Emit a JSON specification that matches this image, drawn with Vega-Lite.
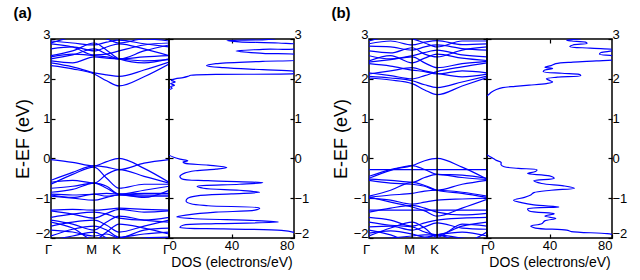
{
"$schema":"https://vega.github.io/schema/vega-lite/v6.json",
"padding":{"left":13,"top":6,"right":0,"bottom":0},
"config":{
 "font":"Liberation Sans",
 "view":{"stroke":"black","strokeWidth":1.5},
 "axis":{"domain":false,"grid":false,"labelFont":"Liberation Sans","labelFontSize":13,"labelColor":"black","tickColor":"black","tickSize":-4,"tickWidth":1.2,"titleFont":"Liberation Sans","titleFontWeight":"normal","titleColor":"black","minExtent":0,"labelOverlap":false},
 "title":{"anchor":"start","fontSize":15,"fontWeight":"bold","font":"Liberation Sans","color":"black","offset":6,"frame":"bounds"}
},
"datasets":{
"sym":[{"p":"M","k":1},{"p":"K","k":1.577}],
"bandA":[
{"b":1,"k":0,"e":2.33},{"b":1,"k":0.5,"e":2.25},{"b":1,"k":1,"e":2.12},{"b":1,"k":1.289,"e":1.95},{"b":1,"k":1.577,"e":1.82},{"b":1,"k":2.155,"e":2.05},{"b":1,"k":2.732,"e":2.37},
{"b":2,"k":0,"e":2.40},{"b":2,"k":0.5,"e":2.30},{"b":2,"k":1,"e":2.15},{"b":2,"k":1.289,"e":2.10},{"b":2,"k":1.577,"e":2.06},{"b":2,"k":2.155,"e":2.22},{"b":2,"k":2.732,"e":2.42},
{"b":3,"k":0,"e":2.45},{"b":3,"k":0.5,"e":2.40},{"b":3,"k":1,"e":2.55},{"b":3,"k":1.289,"e":2.52},{"b":3,"k":1.577,"e":2.50},{"b":3,"k":2.155,"e":2.45},{"b":3,"k":2.732,"e":2.48},
{"b":4,"k":0,"e":2.50},{"b":4,"k":0.5,"e":2.60},{"b":4,"k":1,"e":2.75},{"b":4,"k":1.289,"e":2.62},{"b":4,"k":1.577,"e":2.50},{"b":4,"k":2.155,"e":2.55},{"b":4,"k":2.732,"e":2.58},
{"b":5,"k":0,"e":2.55},{"b":5,"k":0.5,"e":2.62},{"b":5,"k":1,"e":2.58},{"b":5,"k":1.289,"e":2.55},{"b":5,"k":1.577,"e":2.50},{"b":5,"k":2.155,"e":2.70},{"b":5,"k":2.732,"e":2.85},
{"b":6,"k":0,"e":2.58},{"b":6,"k":0.5,"e":2.70},{"b":6,"k":1,"e":2.90},{"b":6,"k":1.289,"e":2.72},{"b":6,"k":1.577,"e":2.50},{"b":6,"k":2.155,"e":2.40},{"b":6,"k":2.732,"e":2.50},
{"b":7,"k":0,"e":2.75},{"b":7,"k":0.5,"e":2.80},{"b":7,"k":1,"e":2.70},{"b":7,"k":1.289,"e":2.80},{"b":7,"k":1.577,"e":2.88},{"b":7,"k":2.155,"e":2.75},{"b":7,"k":2.732,"e":2.58},
{"b":8,"k":0,"e":2.88},{"b":8,"k":0.5,"e":2.80},{"b":8,"k":1,"e":2.60},{"b":8,"k":1.289,"e":2.62},{"b":8,"k":1.577,"e":2.70},{"b":8,"k":2.155,"e":2.85},{"b":8,"k":2.732,"e":2.90},
{"b":9,"k":0,"e":2.95},{"b":9,"k":0.5,"e":2.90},{"b":9,"k":1,"e":2.85},{"b":9,"k":1.289,"e":2.92},{"b":9,"k":1.577,"e":2.97},{"b":9,"k":2.155,"e":2.88},{"b":9,"k":2.732,"e":2.80},
{"b":10,"k":0,"e":2.90},{"b":10,"k":0.5,"e":3.05},{"b":10,"k":1,"e":3.10},{"b":10,"k":1.289,"e":3.00},{"b":10,"k":1.577,"e":2.90},{"b":10,"k":2.155,"e":3.00},{"b":10,"k":2.732,"e":2.95},
{"b":11,"k":0,"e":-0.03},{"b":11,"k":0.5,"e":-0.10},{"b":11,"k":1,"e":-0.19},{"b":11,"k":1.289,"e":-0.08},{"b":11,"k":1.577,"e":0.00},{"b":11,"k":2.155,"e":-0.25},{"b":11,"k":2.732,"e":-0.60},
{"b":12,"k":0,"e":-0.55},{"b":12,"k":0.5,"e":-0.35},{"b":12,"k":1,"e":-0.19},{"b":12,"k":1.289,"e":-0.22},{"b":12,"k":1.577,"e":-0.28},{"b":12,"k":2.155,"e":-0.12},{"b":12,"k":2.732,"e":-0.03},
{"b":13,"k":0,"e":-0.60},{"b":13,"k":0.5,"e":-0.55},{"b":13,"k":1,"e":-0.62},{"b":13,"k":1.289,"e":-0.40},{"b":13,"k":1.577,"e":-0.28},{"b":13,"k":2.155,"e":-0.45},{"b":13,"k":2.732,"e":-0.62},
{"b":14,"k":0,"e":-0.65},{"b":14,"k":0.5,"e":-0.40},{"b":14,"k":1,"e":-0.22},{"b":14,"k":1.289,"e":-0.50},{"b":14,"k":1.577,"e":-0.75},{"b":14,"k":2.155,"e":-0.65},{"b":14,"k":2.732,"e":-0.65},
{"b":15,"k":0,"e":-0.75},{"b":15,"k":0.5,"e":-0.70},{"b":15,"k":1,"e":-0.62},{"b":15,"k":1.289,"e":-0.75},{"b":15,"k":1.577,"e":-0.90},{"b":15,"k":2.155,"e":-0.80},{"b":15,"k":2.732,"e":-0.70},
{"b":16,"k":0,"e":-0.85},{"b":16,"k":0.5,"e":-0.78},{"b":16,"k":1,"e":-0.62},{"b":16,"k":1.289,"e":-0.70},{"b":16,"k":1.577,"e":-0.90},{"b":16,"k":2.155,"e":-0.88},{"b":16,"k":2.732,"e":-0.88},
{"b":17,"k":0,"e":-0.90},{"b":17,"k":0.5,"e":-0.92},{"b":17,"k":1,"e":-0.90},{"b":17,"k":1.289,"e":-0.88},{"b":17,"k":1.577,"e":-0.90},{"b":17,"k":2.155,"e":-0.92},{"b":17,"k":2.732,"e":-0.92},
{"b":18,"k":0,"e":-0.92},{"b":18,"k":0.5,"e":-0.98},{"b":18,"k":1,"e":-0.90},{"b":18,"k":1.289,"e":-0.95},{"b":18,"k":1.577,"e":-0.92},{"b":18,"k":2.155,"e":-0.95},{"b":18,"k":2.732,"e":-0.95},
{"b":19,"k":0,"e":-0.95},{"b":19,"k":0.5,"e":-1.00},{"b":19,"k":1,"e":-1.05},{"b":19,"k":1.289,"e":-0.98},{"b":19,"k":1.577,"e":-0.92},{"b":19,"k":2.155,"e":-0.98},{"b":19,"k":2.732,"e":-0.80},
{"b":20,"k":0,"e":-1.30},{"b":20,"k":0.5,"e":-1.28},{"b":20,"k":1,"e":-1.30},{"b":20,"k":1.289,"e":-1.28},{"b":20,"k":1.577,"e":-1.25},{"b":20,"k":2.155,"e":-1.28},{"b":20,"k":2.732,"e":-1.30},
{"b":21,"k":0,"e":-1.32},{"b":21,"k":0.5,"e":-1.40},{"b":21,"k":1,"e":-1.50},{"b":21,"k":1.289,"e":-1.38},{"b":21,"k":1.577,"e":-1.28},{"b":21,"k":2.155,"e":-1.35},{"b":21,"k":2.732,"e":-1.32},
{"b":22,"k":0,"e":-1.48},{"b":22,"k":0.5,"e":-1.40},{"b":22,"k":1,"e":-1.35},{"b":22,"k":1.289,"e":-1.40},{"b":22,"k":1.577,"e":-1.50},{"b":22,"k":2.155,"e":-1.55},{"b":22,"k":2.732,"e":-1.48},
{"b":23,"k":0,"e":-1.55},{"b":23,"k":0.5,"e":-1.65},{"b":23,"k":1,"e":-1.80},{"b":23,"k":1.289,"e":-1.60},{"b":23,"k":1.577,"e":-1.45},{"b":23,"k":2.155,"e":-1.55},{"b":23,"k":2.732,"e":-1.60},
{"b":24,"k":0,"e":-1.70},{"b":24,"k":0.5,"e":-1.60},{"b":24,"k":1,"e":-1.55},{"b":24,"k":1.289,"e":-1.68},{"b":24,"k":1.577,"e":-1.85},{"b":24,"k":2.155,"e":-1.70},{"b":24,"k":2.732,"e":-1.55},
{"b":25,"k":0,"e":-1.80},{"b":25,"k":0.5,"e":-1.85},{"b":25,"k":1,"e":-1.95},{"b":25,"k":1.289,"e":-1.90},{"b":25,"k":1.577,"e":-2.00},{"b":25,"k":2.155,"e":-1.80},{"b":25,"k":2.732,"e":-1.75},
{"b":26,"k":0,"e":-1.95},{"b":26,"k":0.5,"e":-1.78},{"b":26,"k":1,"e":-1.70},{"b":26,"k":1.289,"e":-1.80},{"b":26,"k":1.577,"e":-1.98},{"b":26,"k":2.155,"e":-1.90},{"b":26,"k":2.732,"e":-1.85},
{"b":27,"k":0,"e":-2.05},{"b":27,"k":0.5,"e":-1.95},{"b":27,"k":1,"e":-1.85},{"b":27,"k":1.289,"e":-2.00},{"b":27,"k":1.577,"e":-2.10},{"b":27,"k":2.155,"e":-2.00},{"b":27,"k":2.732,"e":-1.98},
{"b":28,"k":0,"e":-1.60},{"b":28,"k":0.5,"e":-1.75},{"b":28,"k":1,"e":-2.05},{"b":28,"k":1.289,"e":-1.85},{"b":28,"k":1.577,"e":-1.65},{"b":28,"k":2.155,"e":-1.75},{"b":28,"k":2.732,"e":-1.90}
],
"bandB":[
{"b":1,"k":0,"e":2.02},{"b":1,"k":0.5,"e":1.97},{"b":1,"k":1,"e":1.88},{"b":1,"k":1.289,"e":1.72},{"b":1,"k":1.577,"e":1.60},{"b":1,"k":2.155,"e":1.82},{"b":1,"k":2.732,"e":2.03},
{"b":2,"k":0,"e":2.06},{"b":2,"k":0.5,"e":2.02},{"b":2,"k":1,"e":1.95},{"b":2,"k":1.289,"e":1.85},{"b":2,"k":1.577,"e":1.78},{"b":2,"k":2.155,"e":1.92},{"b":2,"k":2.732,"e":2.07},
{"b":3,"k":0,"e":2.12},{"b":3,"k":0.5,"e":2.20},{"b":3,"k":1,"e":2.28},{"b":3,"k":1.289,"e":2.20},{"b":3,"k":1.577,"e":2.14},{"b":3,"k":2.155,"e":2.05},{"b":3,"k":2.732,"e":2.12},
{"b":4,"k":0,"e":2.15},{"b":4,"k":0.5,"e":2.08},{"b":4,"k":1,"e":2.00},{"b":4,"k":1.289,"e":2.08},{"b":4,"k":1.577,"e":2.18},{"b":4,"k":2.155,"e":2.30},{"b":4,"k":2.732,"e":2.40},
{"b":5,"k":0,"e":2.38},{"b":5,"k":0.5,"e":2.32},{"b":5,"k":1,"e":2.22},{"b":5,"k":1.289,"e":2.18},{"b":5,"k":1.577,"e":2.12},{"b":5,"k":2.155,"e":2.20},{"b":5,"k":2.732,"e":2.15},
{"b":6,"k":0,"e":2.42},{"b":6,"k":0.5,"e":2.48},{"b":6,"k":1,"e":2.55},{"b":6,"k":1.289,"e":2.40},{"b":6,"k":1.577,"e":2.28},{"b":6,"k":2.155,"e":2.38},{"b":6,"k":2.732,"e":2.44},
{"b":7,"k":0,"e":2.45},{"b":7,"k":0.5,"e":2.58},{"b":7,"k":1,"e":2.40},{"b":7,"k":1.289,"e":2.52},{"b":7,"k":1.577,"e":2.62},{"b":7,"k":2.155,"e":2.52},{"b":7,"k":2.732,"e":2.46},
{"b":8,"k":0,"e":2.58},{"b":8,"k":0.5,"e":2.50},{"b":8,"k":1,"e":2.58},{"b":8,"k":1.289,"e":2.66},{"b":8,"k":1.577,"e":2.72},{"b":8,"k":2.155,"e":2.60},{"b":8,"k":2.732,"e":2.55},
{"b":9,"k":0,"e":2.70},{"b":9,"k":0.5,"e":2.65},{"b":9,"k":1,"e":2.78},{"b":9,"k":1.289,"e":2.62},{"b":9,"k":1.577,"e":2.55},{"b":9,"k":2.155,"e":2.72},{"b":9,"k":2.732,"e":2.80},
{"b":10,"k":0,"e":2.82},{"b":10,"k":0.5,"e":2.80},{"b":10,"k":1,"e":2.72},{"b":10,"k":1.289,"e":2.80},{"b":10,"k":1.577,"e":2.85},{"b":10,"k":2.155,"e":2.76},{"b":10,"k":2.732,"e":2.72},
{"b":11,"k":0,"e":2.88},{"b":11,"k":0.5,"e":2.95},{"b":11,"k":1,"e":2.85},{"b":11,"k":1.289,"e":2.92},{"b":11,"k":1.577,"e":2.96},{"b":11,"k":2.155,"e":2.86},{"b":11,"k":2.732,"e":2.88},
{"b":12,"k":0,"e":2.95},{"b":12,"k":0.5,"e":3.05},{"b":12,"k":1,"e":3.00},{"b":12,"k":1.289,"e":2.90},{"b":12,"k":1.577,"e":2.80},{"b":12,"k":2.155,"e":2.95},{"b":12,"k":2.732,"e":2.95},
{"b":13,"k":0,"e":-0.45},{"b":13,"k":0.5,"e":-0.28},{"b":13,"k":1,"e":-0.18},{"b":13,"k":1.289,"e":-0.06},{"b":13,"k":1.577,"e":0.00},{"b":13,"k":2.155,"e":-0.22},{"b":13,"k":2.732,"e":-0.52},
{"b":14,"k":0,"e":-0.28},{"b":14,"k":0.5,"e":-0.28},{"b":14,"k":1,"e":-0.28},{"b":14,"k":1.289,"e":-0.28},{"b":14,"k":1.577,"e":-0.28},{"b":14,"k":2.155,"e":-0.28},{"b":14,"k":2.732,"e":-0.28},
{"b":15,"k":0,"e":-0.50},{"b":15,"k":0.5,"e":-0.30},{"b":15,"k":1,"e":-0.18},{"b":15,"k":1.289,"e":-0.28},{"b":15,"k":1.577,"e":-0.40},{"b":15,"k":2.155,"e":-0.42},{"b":15,"k":2.732,"e":-0.50},
{"b":16,"k":0,"e":-0.52},{"b":16,"k":0.5,"e":-0.55},{"b":16,"k":1,"e":-0.60},{"b":16,"k":1.289,"e":-0.48},{"b":16,"k":1.577,"e":-0.40},{"b":16,"k":2.155,"e":-0.48},{"b":16,"k":2.732,"e":-0.53},
{"b":17,"k":0,"e":-0.55},{"b":17,"k":0.5,"e":-0.62},{"b":17,"k":1,"e":-0.65},{"b":17,"k":1.289,"e":-0.70},{"b":17,"k":1.577,"e":-0.80},{"b":17,"k":2.155,"e":-0.65},{"b":17,"k":2.732,"e":-0.55},
{"b":18,"k":0,"e":-0.95},{"b":18,"k":0.5,"e":-0.80},{"b":18,"k":1,"e":-0.60},{"b":18,"k":1.289,"e":-0.68},{"b":18,"k":1.577,"e":-0.80},{"b":18,"k":2.155,"e":-0.88},{"b":18,"k":2.732,"e":-0.98},
{"b":19,"k":0,"e":-0.98},{"b":19,"k":0.5,"e":-0.92},{"b":19,"k":1,"e":-0.88},{"b":19,"k":1.289,"e":-0.82},{"b":19,"k":1.577,"e":-0.80},{"b":19,"k":2.155,"e":-0.85},{"b":19,"k":2.732,"e":-0.95},
{"b":20,"k":0,"e":-1.00},{"b":20,"k":0.5,"e":-1.05},{"b":20,"k":1,"e":-1.15},{"b":20,"k":1.289,"e":-1.10},{"b":20,"k":1.577,"e":-1.05},{"b":20,"k":2.155,"e":-1.02},{"b":20,"k":2.732,"e":-1.00},
{"b":21,"k":0,"e":-0.97},{"b":21,"k":0.5,"e":-1.10},{"b":21,"k":1,"e":-1.22},{"b":21,"k":1.289,"e":-1.32},{"b":21,"k":1.577,"e":-1.45},{"b":21,"k":2.155,"e":-1.25},{"b":21,"k":2.732,"e":-1.03},
{"b":22,"k":0,"e":-1.30},{"b":22,"k":0.5,"e":-1.30},{"b":22,"k":1,"e":-1.30},{"b":22,"k":1.289,"e":-1.30},{"b":22,"k":1.577,"e":-1.30},{"b":22,"k":2.155,"e":-1.30},{"b":22,"k":2.732,"e":-1.30},
{"b":23,"k":0,"e":-1.35},{"b":23,"k":0.5,"e":-1.25},{"b":23,"k":1,"e":-1.18},{"b":23,"k":1.289,"e":-1.25},{"b":23,"k":1.577,"e":-1.35},{"b":23,"k":2.155,"e":-1.42},{"b":23,"k":2.732,"e":-1.38},
{"b":24,"k":0,"e":-1.48},{"b":24,"k":0.5,"e":-1.55},{"b":24,"k":1,"e":-1.70},{"b":24,"k":1.289,"e":-1.62},{"b":24,"k":1.577,"e":-1.55},{"b":24,"k":2.155,"e":-1.50},{"b":24,"k":2.732,"e":-1.48},
{"b":25,"k":0,"e":-1.60},{"b":25,"k":0.5,"e":-1.68},{"b":25,"k":1,"e":-1.72},{"b":25,"k":1.289,"e":-1.85},{"b":25,"k":1.577,"e":-1.92},{"b":25,"k":2.155,"e":-1.70},{"b":25,"k":2.732,"e":-1.60},
{"b":26,"k":0,"e":-1.72},{"b":26,"k":0.5,"e":-1.70},{"b":26,"k":1,"e":-1.80},{"b":26,"k":1.289,"e":-1.72},{"b":26,"k":1.577,"e":-1.62},{"b":26,"k":2.155,"e":-1.75},{"b":26,"k":2.732,"e":-1.78},
{"b":27,"k":0,"e":-1.88},{"b":27,"k":0.5,"e":-1.82},{"b":27,"k":1,"e":-1.90},{"b":27,"k":1.289,"e":-1.98},{"b":27,"k":1.577,"e":-1.92},{"b":27,"k":2.155,"e":-1.85},{"b":27,"k":2.732,"e":-1.95},
{"b":28,"k":0,"e":-2.05},{"b":28,"k":0.5,"e":-2.00},{"b":28,"k":1,"e":-1.95},{"b":28,"k":1.289,"e":-1.92},{"b":28,"k":1.577,"e":-1.92},{"b":28,"k":2.155,"e":-2.00},{"b":28,"k":2.732,"e":-2.05},
{"b":29,"k":0,"e":-1.80},{"b":29,"k":0.5,"e":-1.92},{"b":29,"k":1,"e":-2.10},{"b":29,"k":1.289,"e":-2.02},{"b":29,"k":1.577,"e":-1.92},{"b":29,"k":2.155,"e":-2.10},{"b":29,"k":2.732,"e":-1.85},
{"b":30,"k":0,"e":-1.95},{"b":30,"k":0.5,"e":-1.75},{"b":30,"k":1,"e":-1.60},{"b":30,"k":1.289,"e":-1.75},{"b":30,"k":1.577,"e":-1.98},{"b":30,"k":2.155,"e":-1.65},{"b":30,"k":2.732,"e":-1.70}
],
"dosA":[
{"s":1,"e":1.73,"d":0},{"s":1,"e":1.76,"d":2},{"s":1,"e":1.80,"d":1},{"s":1,"e":1.84,"d":3.5},{"s":1,"e":1.88,"d":1},{"s":1,"e":1.92,"d":4},{"s":1,"e":1.96,"d":1.5},{"s":1,"e":2.00,"d":4},{"s":1,"e":2.03,"d":9},{"s":1,"e":2.06,"d":12},{"s":1,"e":2.09,"d":14},{"s":1,"e":2.11,"d":30},{"s":1,"e":2.13,"d":80},{"s":1,"e":2.16,"d":85},{"s":1,"e":2.19,"d":80},{"s":1,"e":2.23,"d":60},{"s":1,"e":2.28,"d":35},{"s":1,"e":2.33,"d":24},{"s":1,"e":2.38,"d":30},{"s":1,"e":2.44,"d":60},{"s":1,"e":2.50,"d":85},{"s":1,"e":2.58,"d":85},{"s":1,"e":2.64,"d":60},{"s":1,"e":2.70,"d":43},{"s":1,"e":2.74,"d":60},{"s":1,"e":2.78,"d":85},{"s":1,"e":2.84,"d":85},{"s":1,"e":2.90,"d":70},{"s":1,"e":2.93,"d":45},{"s":1,"e":2.96,"d":37},{"s":1,"e":2.98,"d":60},{"s":1,"e":3.0,"d":68},
{"s":2,"e":0.08,"d":0},{"s":2,"e":0.03,"d":3},{"s":2,"e":-0.02,"d":7},{"s":2,"e":-0.06,"d":12},{"s":2,"e":-0.09,"d":9},{"s":2,"e":-0.12,"d":10},{"s":2,"e":-0.17,"d":25},{"s":2,"e":-0.23,"d":37},{"s":2,"e":-0.27,"d":30},{"s":2,"e":-0.31,"d":17},{"s":2,"e":-0.37,"d":10},{"s":2,"e":-0.45,"d":7},{"s":2,"e":-0.51,"d":8},{"s":2,"e":-0.56,"d":25},{"s":2,"e":-0.61,"d":60},{"s":2,"e":-0.65,"d":45},{"s":2,"e":-0.70,"d":18},{"s":2,"e":-0.75,"d":22},{"s":2,"e":-0.80,"d":45},{"s":2,"e":-0.85,"d":58},{"s":2,"e":-0.89,"d":40},{"s":2,"e":-0.94,"d":18},{"s":2,"e":-1.00,"d":12},{"s":2,"e":-1.08,"d":11},{"s":2,"e":-1.14,"d":14},{"s":2,"e":-1.19,"d":25},{"s":2,"e":-1.25,"d":58},{"s":2,"e":-1.30,"d":55},{"s":2,"e":-1.35,"d":30},{"s":2,"e":-1.42,"d":12},{"s":2,"e":-1.47,"d":5},{"s":2,"e":-1.51,"d":15},{"s":2,"e":-1.56,"d":55},{"s":2,"e":-1.60,"d":70},{"s":2,"e":-1.64,"d":30},{"s":2,"e":-1.68,"d":9},{"s":2,"e":-1.73,"d":7},{"s":2,"e":-1.77,"d":35},{"s":2,"e":-1.81,"d":72},{"s":2,"e":-1.86,"d":80},{"s":2,"e":-1.93,"d":85},{"s":2,"e":-2.0,"d":90}
],
"dosB":[
{"s":1,"e":1.57,"d":0},{"s":1,"e":1.62,"d":1.5},{"s":1,"e":1.67,"d":3},{"s":1,"e":1.73,"d":6},{"s":1,"e":1.78,"d":10},{"s":1,"e":1.81,"d":18},{"s":1,"e":1.84,"d":27},{"s":1,"e":1.88,"d":38},{"s":1,"e":1.92,"d":42},{"s":1,"e":1.96,"d":40},{"s":1,"e":2.00,"d":38},{"s":1,"e":2.04,"d":45},{"s":1,"e":2.08,"d":60},{"s":1,"e":2.11,"d":59},{"s":1,"e":2.14,"d":48},{"s":1,"e":2.18,"d":36},{"s":1,"e":2.22,"d":37},{"s":1,"e":2.26,"d":42},{"s":1,"e":2.29,"d":37},{"s":1,"e":2.33,"d":41},{"s":1,"e":2.38,"d":44},{"s":1,"e":2.42,"d":55},{"s":1,"e":2.45,"d":70},{"s":1,"e":2.48,"d":82},{"s":1,"e":2.53,"d":85},{"s":1,"e":2.58,"d":80},{"s":1,"e":2.62,"d":72},{"s":1,"e":2.66,"d":73},{"s":1,"e":2.70,"d":80},{"s":1,"e":2.73,"d":82},{"s":1,"e":2.77,"d":66},{"s":1,"e":2.81,"d":53},{"s":1,"e":2.85,"d":55},{"s":1,"e":2.89,"d":64},{"s":1,"e":2.92,"d":63},{"s":1,"e":2.95,"d":54},{"s":1,"e":2.97,"d":51},{"s":1,"e":3.0,"d":60},
{"s":2,"e":0.09,"d":0},{"s":2,"e":0.04,"d":2},{"s":2,"e":0.0,"d":4},{"s":2,"e":-0.05,"d":6},{"s":2,"e":-0.10,"d":9},{"s":2,"e":-0.16,"d":9},{"s":2,"e":-0.21,"d":11},{"s":2,"e":-0.25,"d":20},{"s":2,"e":-0.29,"d":32},{"s":2,"e":-0.33,"d":31},{"s":2,"e":-0.38,"d":26},{"s":2,"e":-0.44,"d":40},{"s":2,"e":-0.50,"d":43},{"s":2,"e":-0.56,"d":30},{"s":2,"e":-0.63,"d":35},{"s":2,"e":-0.69,"d":49},{"s":2,"e":-0.75,"d":56},{"s":2,"e":-0.80,"d":41},{"s":2,"e":-0.86,"d":30},{"s":2,"e":-0.92,"d":28},{"s":2,"e":-0.98,"d":24},{"s":2,"e":-1.05,"d":17},{"s":2,"e":-1.11,"d":22},{"s":2,"e":-1.17,"d":30},{"s":2,"e":-1.22,"d":46},{"s":2,"e":-1.27,"d":26},{"s":2,"e":-1.32,"d":27},{"s":2,"e":-1.39,"d":43},{"s":2,"e":-1.45,"d":37},{"s":2,"e":-1.51,"d":44},{"s":2,"e":-1.57,"d":37},{"s":2,"e":-1.64,"d":35},{"s":2,"e":-1.70,"d":28},{"s":2,"e":-1.75,"d":31},{"s":2,"e":-1.80,"d":51},{"s":2,"e":-1.84,"d":54},{"s":2,"e":-1.89,"d":77},{"s":2,"e":-1.93,"d":82},{"s":2,"e":-2.0,"d":85}
]
},
"spacing":17,
"hconcat":[
{"title":{"text":"(a)"},"bounds":"flush","spacing":0,"hconcat":[
 {"width":118,"height":199,
  "layer":[
   {"data":{"name":"bandA"},"mark":{"type":"line","interpolate":"monotone","clip":true,"color":"#0000ff","strokeWidth":1.2},
    "encoding":{
     "x":{"field":"k","type":"quantitative","scale":{"domain":[0,2.732],"nice":false,"zero":false},"axis":{"values":[0,1,1.577,2.732],"labelExpr":"datum.value == 1 ? 'M' : (datum.value > 1.5 && datum.value < 2 ? 'K' : 'Γ')","ticks":false,"labelPadding":5,"labelOffset":-3,"labelOverlap":false,"labelFlush":false,"labelBound":false,"title":null}},
     "y":{"field":"e","type":"quantitative","scale":{"domain":[-2,3],"nice":false,"zero":false},"axis":{"orient":"left","values":[-2,-1,0,1,2,3],"labelPadding":5,"labelOffset":{"condition":{"test":"datum.value == 3 || datum.value == -2","value":-5},"value":0},"title":"E-EF (eV)","titleFontSize":18,"titlePadding":3}},
     "detail":{"field":"b"}}},
   {"data":{"name":"sym"},"mark":{"type":"rule","color":"black","strokeWidth":1.5},
    "encoding":{
     "x":{"field":"k","type":"quantitative","axis":{"values":[0,1,1.577,2.732],"labelExpr":"datum.value == 1 ? 'M' : (datum.value > 1.5 && datum.value < 2 ? 'K' : 'Γ')","ticks":false,"labelPadding":5,"labelOffset":-3,"labelOverlap":false,"labelFlush":false,"labelBound":false,"title":null}},
     "y":{"datum":-2,"type":"quantitative","axis":{"orient":"right","values":[-2,-1,0,1,2,3],"labels":false,"title":null,"maxExtent":0}},
     "y2":{"datum":3}}}
  ],
  "resolve":{"axis":{"y":"independent"}}},
 {"width":125,"height":199,
  "layer":[
   {"data":{"name":"dosA"},"mark":{"type":"line","interpolate":"catmull-rom","clip":true,"color":"#0000ff","strokeWidth":1.2},
    "encoding":{
     "x":{"field":"d","type":"quantitative","scale":{"domain":[0,80],"nice":false,"zero":false},"axis":{"orient":"bottom","values":[0,40,80],"labelFlush":true,"labelPadding":5,"title":"DOS (electrons/eV)","titleFontSize":14,"titlePadding":3}},
     "y":{"field":"e","type":"quantitative","scale":{"domain":[-2,3],"nice":false,"zero":false},"axis":{"orient":"right","values":[-2,-1,0,1,2,3],"labelPadding":4,"labelOffset":{"condition":{"test":"datum.value == 3 || datum.value == -2","value":-5},"value":0},"title":null}},
     "order":{"field":"e","type":"quantitative"},
     "detail":{"field":"s"}}},
   {"data":{"name":"dosA"},"mark":{"type":"point","opacity":0},
    "encoding":{
     "x":{"field":"d","type":"quantitative","axis":{"orient":"top","values":[40],"labels":false,"title":null,"maxExtent":0}},
     "y":{"field":"e","type":"quantitative","axis":{"orient":"left","values":[-2,-1,0,1,2,3],"labels":false,"title":null,"maxExtent":0}}}}
  ],
  "resolve":{"axis":{"x":"independent","y":"independent"}}}
]},
{"title":{"text":"(b)"},"bounds":"flush","spacing":0,"hconcat":[
 {"width":118,"height":199,
  "layer":[
   {"data":{"name":"bandB"},"mark":{"type":"line","interpolate":"monotone","clip":true,"color":"#0000ff","strokeWidth":1.2},
    "encoding":{
     "x":{"field":"k","type":"quantitative","scale":{"domain":[0,2.732],"nice":false,"zero":false},"axis":{"values":[0,1,1.577,2.732],"labelExpr":"datum.value == 1 ? 'M' : (datum.value > 1.5 && datum.value < 2 ? 'K' : 'Γ')","ticks":false,"labelPadding":5,"labelOffset":-3,"labelOverlap":false,"labelFlush":false,"labelBound":false,"title":null}},
     "y":{"field":"e","type":"quantitative","scale":{"domain":[-2,3],"nice":false,"zero":false},"axis":{"orient":"left","values":[-2,-1,0,1,2,3],"labelPadding":5,"labelOffset":{"condition":{"test":"datum.value == 3 || datum.value == -2","value":-5},"value":0},"title":"E-EF (eV)","titleFontSize":18,"titlePadding":3}},
     "detail":{"field":"b"}}},
   {"data":{"name":"sym"},"mark":{"type":"rule","color":"black","strokeWidth":1.5},
    "encoding":{
     "x":{"field":"k","type":"quantitative","axis":{"values":[0,1,1.577,2.732],"labelExpr":"datum.value == 1 ? 'M' : (datum.value > 1.5 && datum.value < 2 ? 'K' : 'Γ')","ticks":false,"labelPadding":5,"labelOffset":-3,"labelOverlap":false,"labelFlush":false,"labelBound":false,"title":null}},
     "y":{"datum":-2,"type":"quantitative","axis":{"orient":"right","values":[-2,-1,0,1,2,3],"labels":false,"title":null,"maxExtent":0}},
     "y2":{"datum":3}}}
  ],
  "resolve":{"axis":{"y":"independent"}}},
 {"width":125,"height":199,
  "layer":[
   {"data":{"name":"dosB"},"mark":{"type":"line","interpolate":"catmull-rom","clip":true,"color":"#0000ff","strokeWidth":1.2},
    "encoding":{
     "x":{"field":"d","type":"quantitative","scale":{"domain":[0,80],"nice":false,"zero":false},"axis":{"orient":"bottom","values":[0,40,80],"labelFlush":true,"labelPadding":5,"title":"DOS (electrons/eV)","titleFontSize":14,"titlePadding":3}},
     "y":{"field":"e","type":"quantitative","scale":{"domain":[-2,3],"nice":false,"zero":false},"axis":{"orient":"right","values":[-2,-1,0,1,2,3],"labelPadding":4,"labelOffset":{"condition":{"test":"datum.value == 3 || datum.value == -2","value":-5},"value":0},"title":null}},
     "order":{"field":"e","type":"quantitative"},
     "detail":{"field":"s"}}},
   {"data":{"name":"dosB"},"mark":{"type":"point","opacity":0},
    "encoding":{
     "x":{"field":"d","type":"quantitative","axis":{"orient":"top","values":[40],"labels":false,"title":null,"maxExtent":0}},
     "y":{"field":"e","type":"quantitative","axis":{"orient":"left","values":[-2,-1,0,1,2,3],"labels":false,"title":null,"maxExtent":0}}}}
  ],
  "resolve":{"axis":{"x":"independent","y":"independent"}}}
]}
]
}
